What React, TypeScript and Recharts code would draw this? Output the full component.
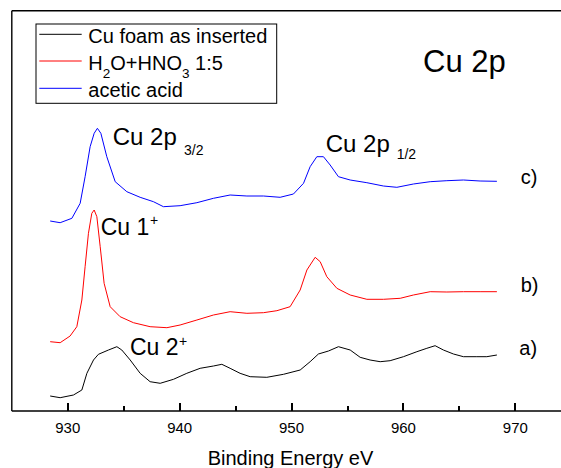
import React from 'react';
import { LineChart, Line, XAxis, YAxis } from 'recharts';

const FONT = '"Liberation Sans", Arial, Helvetica, sans-serif';

// a) Cu foam as inserted (black)
const energyA = [928.43, 929.32, 930.51, 931.26, 931.71, 932.3, 932.74, 933.64, 934.39, 934.83, 935.58, 936.47, 937.36, 938.26, 939.45, 940.64, 941.83, 943.02, 943.77, 944.51, 945.4, 946.3, 947.79, 949.28, 950.77, 951.66, 952.4, 953.3, 954.19, 955.24, 956.13, 957.02, 957.92, 958.81, 960.0, 961.2, 962.09, 962.83, 963.57, 964.47, 965.36, 966.56, 967.45, 968.35];
const intensityA = [15, 13.3, 16, 21, 37.7, 51, 56.7, 61, 64.3, 61, 51, 37.7, 29.3, 27.7, 31.7, 37.7, 42.7, 45, 46.7, 42.7, 37.7, 34.3, 33.7, 36.7, 41, 49.3, 57, 60, 64.3, 61, 53.7, 51, 49.3, 50.3, 54.3, 59.3, 62.7, 65.3, 61, 57, 54.3, 54.3, 54.3, 56];

// b) H2O+HNO3 1:5 (red)
const energyB = [928.43, 929.32, 930.21, 930.81, 931.26, 931.55, 931.85, 932.15, 932.36, 932.6, 932.9, 933.25, 933.79, 934.68, 935.87, 937.36, 938.86, 940.04, 941.54, 943.02, 944.51, 946.01, 947.49, 948.69, 949.87, 950.77, 951.37, 952.11, 952.56, 953.15, 954.05, 955.24, 956.73, 958.21, 959.71, 960.89, 962.39, 963.88, 965.36, 966.85, 968.35];
const intensityB = [69.3, 68.3, 75, 84.3, 111, 144.3, 177.7, 197.7, 201, 194.3, 164.3, 127.7, 104.3, 94.3, 88.3, 84.3, 83.3, 86, 91, 96, 99.3, 97.7, 98.3, 100.3, 104.3, 121, 141, 153.7, 149.3, 134.3, 122.7, 116, 111.7, 111.7, 112.7, 116, 119.3, 119, 119.3, 119.3, 119.3];

// c) acetic acid (blue)
const energyC = [928.43, 929.32, 930.37, 931.11, 931.55, 932.0, 932.36, 932.65, 932.96, 933.49, 934.24, 935.28, 936.47, 937.66, 938.55, 940.04, 941.54, 943.02, 944.51, 946.01, 947.49, 948.98, 950.17, 951.07, 951.66, 952.26, 952.85, 953.45, 954.19, 955.24, 956.73, 958.21, 959.41, 960.89, 962.39, 963.88, 965.36, 966.85, 968.35];
const intensityC = [190, 188.3, 192.7, 207.7, 234.3, 264.3, 277.7, 282.7, 277.7, 254.3, 229.3, 219.3, 213.7, 209.3, 204.3, 205.3, 208.3, 212.7, 216, 215, 215, 213.7, 217, 227.7, 244.3, 254.3, 254.3, 246, 234.3, 231, 228.3, 225, 223.7, 227, 229.3, 230.3, 231, 230, 229.7];

const seriesColors = ['#000000', '#ff0000', '#0000ff'];
const majorTicks = [930, 940, 950, 960, 970];
const minorTicks = [935, 945, 955, 965, 975];
const allTicks = [...majorTicks, ...minorTicks].sort((a, b) => a - b);
const xDomain: [number, number] = [925, 975];
const yDomain: [number, number] = [0, 400.3];

const dataA = energyA.map((e, i) => ({ e, v: intensityA[i] }));
const dataB = energyB.map((e, i) => ({ e, v: intensityB[i] }));
const dataC = energyC.map((e, i) => ({ e, v: intensityC[i] }));

const renderBottomTick = (props: any) => {
  const { x, y, payload } = props;
  const major = majorTicks.includes(payload.value);
  const len = major ? 8 : 5;
  const px = Math.round(Number(x));
  const py = Math.round(Number(y));
  return (
    <g>
      <rect x={px - 1} y={py - len} width={2} height={len} fill="#000000" shapeRendering="crispEdges" />
      {major ? (
        <text x={x} y={Number(y) + 21.7} textAnchor="middle" fontSize={15} fontFamily={FONT} fill="#000">
          {payload.value}
        </text>
      ) : null}
    </g>
  );
};

const renderTopTick = (props: any) => {
  const { x, y, payload } = props;
  const major = majorTicks.includes(payload.value);
  const len = major ? 8 : 5;
  const px = Math.round(Number(x));
  const py = Math.round(Number(y));
  return (
    <g>
      <rect x={px - 1} y={py} width={2} height={len} fill="#000000" shapeRendering="crispEdges" />
    </g>
  );
};

const axisStroke = { stroke: '#000', strokeWidth: 1.4 };

export default function App() {
  return (
    <div style={{ position: 'absolute', left: 0, top: 0, width: 561, height: 468, overflow: 'hidden', background: '#fff' }}>
      <svg width={561} height={468} style={{ position: 'absolute', left: 0, top: 0, pointerEvents: 'none' }} fontFamily={FONT} fill="#000">
        {/* legend */}
        <rect x={36} y={24} width={240.7} height={79.3} fill="none" stroke="#000" strokeWidth={1} />
        <line x1={39.3} x2={81.7} y1={34.3} y2={34.3} stroke={seriesColors[0]} strokeWidth={1} />
        <line x1={39.3} x2={81.7} y1={61} y2={61} stroke={seriesColors[1]} strokeWidth={1} />
        <line x1={39.3} x2={81.7} y1={88.3} y2={88.3} stroke={seriesColors[2]} strokeWidth={1} />
        <text x={88.3} y={43.3} fontSize={20}>Cu foam as inserted</text>
        <text x={88.3} y={70} fontSize={20}>
          H<tspan fontSize={13.5} dy={8}>2</tspan>
          <tspan dy={-8}>O+HNO</tspan>
          <tspan fontSize={13.5} dy={8}>3</tspan>
          <tspan dy={-8}>{' 1:5'}</tspan>
        </text>
        <text x={88.3} y={96.7} fontSize={20}>acetic acid</text>
        {/* title */}
        <text x={423} y={72} fontSize={31}>Cu 2p</text>
        {/* peak labels */}
        <text x={112.7} y={145} fontSize={24}>Cu 2p</text>
        <text x={184} y={155} fontSize={14}>3/2</text>
        <text x={325.7} y={151.7} fontSize={24}>Cu 2p</text>
        <text x={396.7} y={159.3} fontSize={14}>1/2</text>
        <text x={100.7} y={235} fontSize={23}>Cu 1</text>
        <text x={150} y={225} fontSize={14}>+</text>
        <text x={130} y={355} fontSize={23}>Cu 2</text>
        <text x={179} y={345.5} fontSize={14}>+</text>
        {/* spectrum labels */}
        <text x={520.7} y={184} fontSize={20}>c)</text>
        <text x={520.7} y={291.7} fontSize={20}>b)</text>
        <text x={519.3} y={355} fontSize={20}>a)</text>
        {/* axis title */}
        <text x={290.5} y={465} fontSize={20} textAnchor="middle">Binding Energy eV</text>
      </svg>
      <div style={{ position: 'absolute', left: 0, top: 0 }}>
        <LineChart width={580} height={468} margin={{ top: 9.7, right: 8.7, left: 10.8, bottom: 0 }}>
          <XAxis
            xAxisId="top"
            orientation="top"
            type="number"
            domain={xDomain}
            allowDataOverflow
            ticks={allTicks}
            interval={0}
            height={1}
            tickSize={-8}
            tickMargin={8}
            tickLine={false}
            axisLine={axisStroke}
            tick={renderTopTick}
          />
          <XAxis
            xAxisId="bottom"
            orientation="bottom"
            type="number"
            dataKey="e"
            domain={xDomain}
            allowDataOverflow
            ticks={allTicks}
            interval={0}
            height={57}
            tickSize={-8}
            tickMargin={8}
            tickLine={false}
            axisLine={axisStroke}
            tick={renderBottomTick}
          />
          <YAxis
            type="number"
            domain={yDomain}
            allowDataOverflow
            width={1}
            tick={false}
            tickLine={false}
            axisLine={axisStroke}
          />
          <Line xAxisId="bottom" data={dataA} dataKey="v" stroke={seriesColors[0]} strokeWidth={1} dot={false} type="linear" isAnimationActive={false} />
          <Line xAxisId="bottom" data={dataB} dataKey="v" stroke={seriesColors[1]} strokeWidth={1} dot={false} type="linear" isAnimationActive={false} />
          <Line xAxisId="bottom" data={dataC} dataKey="v" stroke={seriesColors[2]} strokeWidth={1} dot={false} type="linear" isAnimationActive={false} />
        </LineChart>
      </div>
    </div>
  );
}
